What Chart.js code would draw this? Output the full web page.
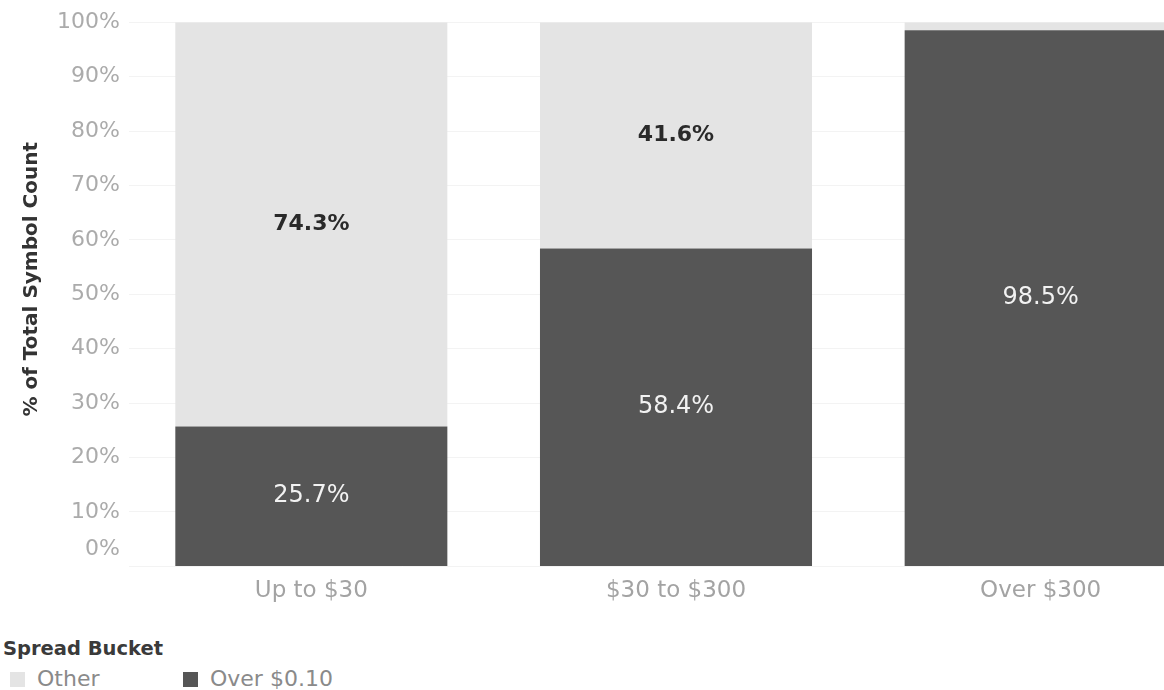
<!DOCTYPE html>
<html>
<head>
<meta charset="utf-8">
<script src="https://cdn.jsdelivr.net/npm/chart.js@4.4.1/dist/chart.umd.min.js"></script>
<style>
  html, body { margin: 0; padding: 0; background: #ffffff; overflow: hidden; width: 1164px; height: 690px; }
  #wrap { position: absolute; left: 0; top: 0; width: 1223px; height: 616px; }
  #legend { position: absolute; left: 0; top: 630px; font-family: 'DejaVu Sans', sans-serif; }
  #legend .title { position: absolute; left: 3px; top: 7px; font-size: 19.5px; font-weight: bold; color: #3a3a3a; white-space: nowrap; }
  #legend .item { position: absolute; top: 36px; font-size: 22px; color: #8a8a8a; white-space: nowrap; line-height: 26px; }
  #legend .sw { display: inline-block; width: 15px; height: 15px; vertical-align: -1px; margin-right: 12px; }
</style>
</head>
<body>
<div id="wrap"><canvas id="c" width="1223" height="616"></canvas></div>
<div id="legend">
  <div class="title">Spread Bucket</div>
  <div class="item" style="left:10px"><span class="sw" style="background:#e4e4e4"></span>Other</div>
  <div class="item" style="left:183px"><span class="sw" style="background:#565656"></span>Over $0.10</div>
</div>
<script>
const categories = ['Up to $30', '$30 to $300', 'Over $300'];
const overValues = [25.7, 58.4, 98.5];
const otherValues = [74.3, 41.6, 1.5];
const yTickValues = [0, 10, 20, 30, 40, 50, 60, 70, 80, 90, 100];
const seriesNames = ['Over $0.10', 'Other'];
const yAxisTitle = '% of Total Symbol Count';

const DARK = '#565656';
const LIGHT = '#e4e4e4';
const FONT = "'DejaVu Sans', sans-serif";

const labelPlugin = {
  id: 'segLabels',
  afterDatasetsDraw(chart) {
    const ctx = chart.ctx;
    ctx.save();
    ctx.textAlign = 'center';
    ctx.textBaseline = 'middle';
    chart.data.datasets.forEach((ds, di) => {
      const meta = chart.getDatasetMeta(di);
      meta.data.forEach((el, i) => {
        const v = ds.data[i];
        if (v < 5) return;
        if (di === 0) { ctx.font = '24px ' + FONT; ctx.fillStyle = '#f2f2f2'; }
        else { ctx.font = 'bold 22px ' + FONT; ctx.fillStyle = '#2a2a2a'; }
        ctx.fillText(v.toFixed(1) + '%', el.x, (el.y + el.base) / 2);
      });
    });
    ctx.restore();
  }
};

const axisExtrasPlugin = {
  id: 'axisExtras',
  afterDraw(chart) {
    const y = chart.scales.y;
    const ctx = chart.ctx;
    ctx.save();
    ctx.font = '22px ' + FONT;
    ctx.fillStyle = '#ababab';
    ctx.textAlign = 'right';
    ctx.textBaseline = 'middle';
    ctx.fillText(yTickValues[0] + '%', chart.chartArea.left - 9, y.getPixelForValue(yTickValues[0]) - 17);
    ctx.restore();

    ctx.save();
    ctx.translate(32, (chart.chartArea.top + chart.chartArea.bottom) / 2 - 15);
    ctx.rotate(-Math.PI / 2);
    ctx.font = 'bold 20px ' + FONT;
    ctx.fillStyle = '#333333';
    ctx.textAlign = 'center';
    ctx.textBaseline = 'middle';
    ctx.fillText(yAxisTitle, 0, 0);
    ctx.restore();
  }
};

new Chart(document.getElementById('c'), {
  type: 'bar',
  data: {
    labels: categories,
    datasets: [
      { label: seriesNames[0], data: overValues, backgroundColor: DARK, barPercentage: 0.746, categoryPercentage: 1.0 },
      { label: seriesNames[1], data: otherValues, backgroundColor: LIGHT, barPercentage: 0.746, categoryPercentage: 1.0 }
    ]
  },
  options: {
    responsive: false,
    animation: false,
    devicePixelRatio: 1,
    layout: { padding: { top: 19, right: 0, bottom: 0, left: 0 } },
    plugins: { legend: { display: false }, tooltip: { enabled: false } },
    scales: {
      x: {
        stacked: true,
        grid: { display: false, drawTicks: false },
        border: { display: false },
        ticks: { color: '#a3a3a3', font: { family: FONT, size: 23 }, padding: 11 }
      },
      y: {
        stacked: true,
        min: 0,
        max: 100,
        afterBuildTicks(scale) { scale.ticks = yTickValues.map(v => ({ value: v })); },
        afterFit(scale) { scale.width = 129; },
        grid: { color: '#f3f3f3', drawTicks: false },
        border: { display: false },
        ticks: {
          color: '#ababab',
          font: { family: FONT, size: 22 },
          padding: 9,
          callback: (v) => v === 0 ? '' : v + '%'
        }
      }
    }
  },
  plugins: [labelPlugin, axisExtrasPlugin]
});
</script>
</body>
</html>
